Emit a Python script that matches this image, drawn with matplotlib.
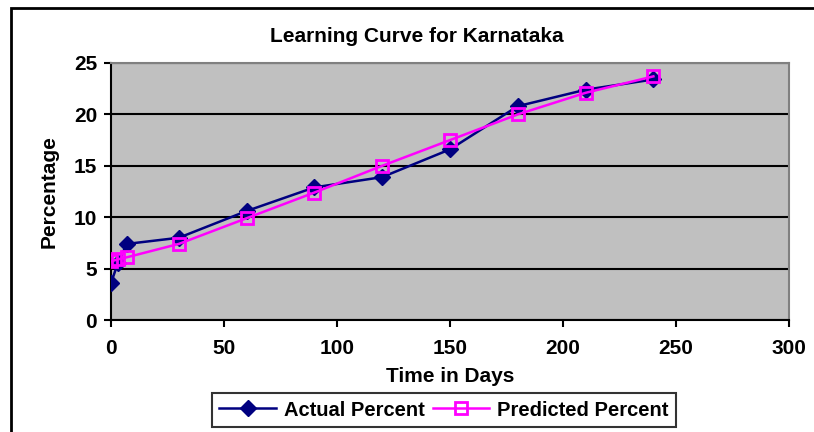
import matplotlib
matplotlib.use("Agg")
import matplotlib.pyplot as plt
from matplotlib.patches import Rectangle

days = [0, 3, 7, 30, 60, 90, 120, 150, 180, 210, 240]
actual = [3.6, 5.5, 7.4, 8.0, 10.6, 12.9, 13.9, 16.6, 20.8, 22.4, 23.4]
predicted = [5.7, 5.9, 6.1, 7.4, 9.9, 12.4, 15.0, 17.5, 20.0, 22.1, 23.7]
xticks = [0, 50, 100, 150, 200, 250, 300]
yticks = [0, 5, 10, 15, 20, 25]

plt.rcParams['font.family'] = ['Liberation Sans', 'DejaVu Sans']
plt.rcParams['font.weight'] = 'bold'

W, H = 814, 432
fig = plt.figure(figsize=(W/100, H/100), dpi=100)
ax = fig.add_axes([111/W, 1-320/H, (789-111)/W, (320-63)/H])
ax.set_facecolor('#c0c0c0')

# outer chart frame
fig.patches.append(Rectangle((11/W, -0.2), 1.2, 1.2 - 8/H, transform=fig.transFigure,
                             fill=False, edgecolor='black', linewidth=2, clip_on=False))

ax.plot(days, actual, color='#000080', marker='D', markersize=8, linewidth=1.8,
        label='Actual Percent', zorder=3)
ax.plot(days, predicted, color='#ff00ff', marker='s', markersize=8, markerfacecolor='none',
        markeredgewidth=2, linewidth=1.8, label='Predicted Percent', zorder=4)

ax.set_xlim(0, 300)
ax.set_ylim(0, 25)
ax.set_xticks(xticks)
ax.set_yticks(yticks)
ax.yaxis.grid(True, color='black', linewidth=1.5)
ax.set_axisbelow(True)
for s in ['top', 'right']:
    ax.spines[s].set_color('#808080')
    ax.spines[s].set_linewidth(1.5)
for s in ['left', 'bottom']:
    ax.spines[s].set_color('black')
    ax.spines[s].set_linewidth(1.5)
ax.tick_params(axis='both', direction='out', length=5, width=1.5, labelsize=15, pad=5)
ax.tick_params(axis='x', pad=9)
for lab in ax.get_xticklabels() + ax.get_yticklabels():
    lab.set_fontweight('bold')

ax.set_title('Learning Curve for Karnataka', fontsize=15, fontweight='bold', pad=15,
             x=(417-111)/(789-111))
ax.set_xlabel('Time in Days', fontsize=15, fontweight='bold', labelpad=6)
ax.set_ylabel('Percentage', fontsize=15, fontweight='bold', labelpad=11)

leg = fig.legend(loc='center', bbox_to_anchor=(444/W, 1-410/H), ncol=2, frameon=True,
                 fancybox=False, edgecolor='black', handlelength=2.8,
                 columnspacing=0.4, handletextpad=0.4, borderpad=0.35,
                 prop={'weight': 'bold', 'size': 14.5})
leg.get_frame().set_linewidth(1.5)

fig.savefig('out.png', dpi=100)
